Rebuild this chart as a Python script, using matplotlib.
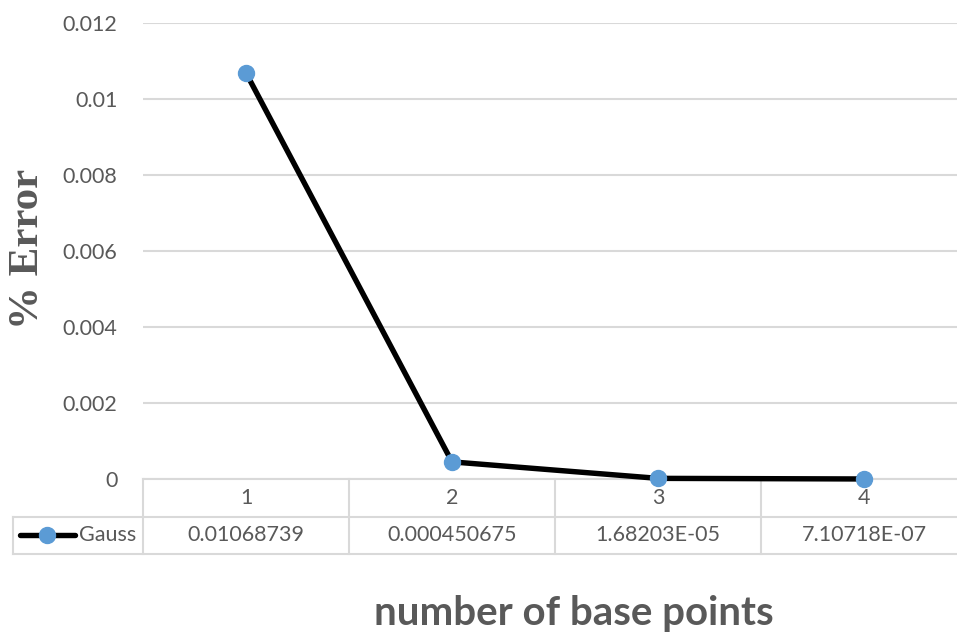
import matplotlib
matplotlib.use("Agg")
import matplotlib.pyplot as plt
from matplotlib.transforms import blended_transform_factory
from matplotlib.lines import Line2D

# ---- data ----
categories = [1, 2, 3, 4]
series_name = "Gauss"
gauss_error = [0.01068739, 0.000450675, 1.68203e-05, 7.10718e-07]
table_labels = ["0.01068739", "0.000450675", "1.68203E-05", "7.10718E-07"]
y_ticks = [0, 0.002, 0.004, 0.006, 0.008, 0.010, 0.012]
y_tick_labels = ["0", "0.002", "0.004", "0.006", "0.008", "0.01", "0.012"]
x_title = "number of base points"
y_title = "% Error"

W, H = 957, 637
TXT = "#595959"
GRID = "#D9D9D9"
BLUE = "#5B9BD5"
FONT = "Lato"

fig = plt.figure(figsize=(W / 100, H / 100), dpi=100)
fig.patch.set_facecolor("white")

def fx(px):
    return px / W

def fy(py):
    return (H - py) / H

left, right, top, bottom = 143, 967, 23, 479
ax = fig.add_axes([fx(left), fy(bottom), fx(right - left), (bottom - top) / H])
ax.set_xlim(0.5, 4.5)
ax.set_ylim(0, 0.012)

for s in ax.spines.values():
    s.set_visible(False)
ax.set_yticks(y_ticks)
ax.set_yticklabels(y_tick_labels, fontsize=15.5, color=TXT, family=FONT)
ax.tick_params(axis="y", length=0, pad=18.5)
ax.set_xticks([])
ax.yaxis.grid(True, color=GRID, linewidth=1.5)
ax.set_axisbelow(True)

ax.plot(categories, gauss_error, color="black", linewidth=3.9, marker="o",
        markersize=11.5, markerfacecolor=BLUE, markeredgecolor=BLUE,
        solid_joinstyle="miter", zorder=3, clip_on=False)

# ---- data table ----
tr = blended_transform_factory(ax.transData, fig.transFigure)
row0_top, row_mid, row_bot = 479.3, 516.7, 554
lw = 1.5
ax.plot([0.5, 4.5], [fy(row0_top)] * 2, transform=tr, color=GRID, lw=lw, clip_on=False, zorder=1)
fig.add_artist(Line2D([fx(13), 1], [fy(row_mid)] * 2, color=GRID, lw=lw))
fig.add_artist(Line2D([fx(13), 1], [fy(row_bot)] * 2, color=GRID, lw=lw))
fig.add_artist(Line2D([fx(13), fx(13)], [fy(row_mid), fy(row_bot)], color=GRID, lw=lw))
for b in [0.5, 1.5, 2.5, 3.5, 4.5]:
    ax.plot([b, b], [fy(row0_top), fy(row_bot)], transform=tr, color=GRID, lw=lw,
            clip_on=False, zorder=1)

for c, lab in zip(categories, table_labels):
    ax.text(c, fy((row0_top + row_mid) / 2), str(c), transform=tr, ha="center",
            va="center", fontsize=15.5, color=TXT, family=FONT)
    ax.text(c, fy((row_mid + row_bot) / 2), lab, transform=tr, ha="center",
            va="center", fontsize=15.5, color=TXT, family=FONT)

# legend key in table
ymid = fy((row_mid + row_bot) / 2)
fig.add_artist(Line2D([fx(20), fx(75)], [ymid, ymid], color="black", lw=3.9,
                      solid_capstyle="round"))
fig.add_artist(Line2D([fx(47)], [ymid], marker="o", markersize=11.5,
                      markerfacecolor=BLUE, markeredgecolor=BLUE, lw=0))
fig.text(fx(79), ymid, series_name, ha="left", va="center", fontsize=15.5,
         color=TXT, family=FONT)

# ---- axis titles ----
fig.text(fx(574), fy(614), x_title, ha="center", va="center", fontsize=29,
         fontweight="bold", color=TXT, family=FONT)
fig.text(fx(28), fy(249), y_title, ha="center", va="center", rotation=90,
         fontsize=31, fontweight="bold", color=TXT, family="Liberation Serif")

fig.savefig("out.png", dpi=100, facecolor="white")
